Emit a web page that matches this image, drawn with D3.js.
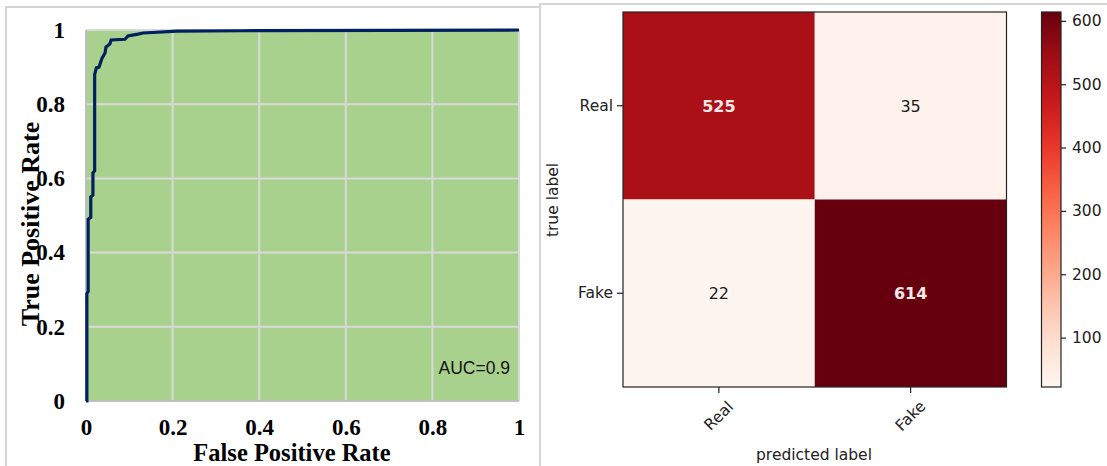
<!DOCTYPE html>
<html>
<head>
<meta charset="utf-8">
<script src="https://cdn.jsdelivr.net/npm/d3@7"></script>
<style>
  html, body { margin: 0; padding: 0; background: #fff; }
  svg { display: block; }
</style>
</head>
<body>
<svg id="chart" width="1107" height="466"></svg>
<script>
// ROC curve points (false positive rate / true positive rate)
const fpr = [0, 0.002, 0.002, 0.005, 0.005, 0.011, 0.011, 0.016, 0.016, 0.020, 0.020, 0.024, 0.030, 0.037, 0.044, 0.046, 0.055, 0.058, 0.090, 0.097, 0.120, 0.132, 0.21, 0.36, 0.70, 1];
const tpr = [0, 0, 0.29, 0.295, 0.49, 0.495, 0.55, 0.555, 0.615, 0.62, 0.88, 0.898, 0.90, 0.924, 0.938, 0.954, 0.962, 0.973, 0.975, 0.984, 0.989, 0.992, 0.997, 0.998, 0.999, 1];
const rocTicks = [0, 0.2, 0.4, 0.6, 0.8, 1];
const aucLabel = "AUC=0.9";

// Confusion matrix
const classes = ["Real", "Fake"];
const matrixRows = [[525, 35], [22, 614]];
const colorbarTicks = [100, 200, 300, 400, 500, 600];

const svg = d3.select("#chart");

// Panel frames
svg.append("rect").attr("x", 6).attr("y", 7).attr("width", 534).attr("height", 480)
  .attr("fill", "none").attr("stroke", "#d4d4d4").attr("stroke-width", 2);
svg.append("rect").attr("x", 540).attr("y", 4).attr("width", 580).attr("height", 480)
  .attr("fill", "none").attr("stroke", "#d4d4d4").attr("stroke-width", 2);

// ---------- ROC panel ----------
const rx = d3.scaleLinear().domain([0, 1]).range([86, 519]);
const ry = d3.scaleLinear().domain([0, 1]).range([401, 30]);

const roc = svg.append("g");
roc.append("rect")
  .attr("x", rx(0)).attr("y", ry(1))
  .attr("width", rx(1) - rx(0)).attr("height", ry(0) - ry(1))
  .attr("fill", "#a9d18e");

// gridlines
roc.append("g").selectAll("line.v").data(rocTicks.slice(1)).join("line")
  .attr("x1", d => rx(d)).attr("x2", d => rx(d))
  .attr("y1", ry(0)).attr("y2", ry(1))
  .attr("stroke", "#d9d9d9").attr("stroke-width", 2);
roc.append("g").selectAll("line.h").data(rocTicks.slice(1)).join("line")
  .attr("x1", rx(0)).attr("x2", rx(1))
  .attr("y1", d => ry(d)).attr("y2", d => ry(d))
  .attr("stroke", "#d9d9d9").attr("stroke-width", 2);
// axis lines
roc.append("line").attr("x1", rx(0)).attr("x2", rx(1)).attr("y1", ry(0)).attr("y2", ry(0))
  .attr("stroke", "#bfbfbf").attr("stroke-width", 2);
roc.append("line").attr("x1", rx(0)).attr("x2", rx(0)).attr("y1", ry(0)).attr("y2", ry(1))
  .attr("stroke", "#bfbfbf").attr("stroke-width", 2);

const fmt = d => d3.format("~g")(d);
const serif = "'Liberation Serif', 'Times New Roman', serif";

const xAxis = roc.append("g").attr("transform", `translate(0,${ry(0)})`)
  .call(d3.axisBottom(rx).tickValues(rocTicks).tickFormat(fmt).tickSize(0).tickPadding(19));
const yAxis = roc.append("g").attr("transform", `translate(${rx(0)},0)`)
  .call(d3.axisLeft(ry).tickValues(rocTicks).tickFormat(fmt).tickSize(0).tickPadding(21));
[xAxis, yAxis].forEach(a => {
  a.select(".domain").remove();
  a.selectAll("text").attr("font-family", serif).attr("font-size", 23)
    .attr("font-weight", "bold").attr("fill", "#000");
});
xAxis.selectAll("text").attr("dy", "0.66em");

// ROC line
const pts = fpr.map((f, i) => [f, tpr[i]]);
roc.append("path").datum(pts)
  .attr("d", d3.line().x(d => rx(d[0])).y(d => ry(d[1])))
  .attr("fill", "none").attr("stroke", "#002060").attr("stroke-width", 3.2)
  .attr("stroke-linejoin", "miter");

roc.append("text").attr("x", 510).attr("y", 374).attr("text-anchor", "end")
  .attr("font-family", "'Liberation Sans', Arial, sans-serif").attr("font-size", 17.5)
  .attr("fill", "#111").text(aucLabel);

roc.append("text").attr("x", 292).attr("y", 461).attr("text-anchor", "middle")
  .attr("font-family", serif).attr("font-size", 24.5).attr("font-weight", "bold")
  .attr("fill", "#000").text("False Positive Rate");
roc.append("text").attr("transform", "translate(39,224) rotate(-90)").attr("text-anchor", "middle")
  .attr("font-family", serif).attr("font-size", 26).attr("font-weight", "bold")
  .attr("fill", "#000").text("True Positive Rate");

// ---------- Confusion matrix panel ----------
const sans = "'DejaVu Sans', sans-serif";
const allVals = matrixRows.flat();
const vmin = d3.min(allVals), vmax = d3.max(allVals);
const color = d3.scaleSequential(d3.interpolateReds).domain([vmin, vmax]);

const cx = d3.scaleBand().domain(classes).range([623, 1006.5]);
const cy = d3.scaleBand().domain(classes).range([12, 387]);

const cm = svg.append("g");
const cells = [];
matrixRows.forEach((row, i) => row.forEach((v, j) => cells.push({ t: classes[i], p: classes[j], v })));

cm.selectAll("rect.cell").data(cells).join("rect")
  .attr("x", d => cx(d.p)).attr("y", d => cy(d.t))
  .attr("width", cx.bandwidth()).attr("height", cy.bandwidth())
  .attr("fill", d => color(d.v));

const thresh = vmax / 2;
cm.selectAll("text.val").data(cells).join("text")
  .attr("x", d => cx(d.p) + cx.bandwidth() / 2)
  .attr("y", d => cy(d.t) + cy.bandwidth() / 2)
  .attr("dy", "0.36em").attr("text-anchor", "middle")
  .attr("font-family", sans).attr("font-size", 16)
  .attr("font-weight", d => d.v > thresh ? "bold" : "normal")
  .attr("fill", d => d.v > thresh ? "#fbe8e8" : "#1a1a1a")
  .text(d => d.v);

cm.append("rect").attr("x", 623).attr("y", 12)
  .attr("width", 1006.5 - 623).attr("height", 387 - 12)
  .attr("fill", "none").attr("stroke", "#222").attr("stroke-width", 1.2);

const cyAxis = cm.append("g").attr("transform", "translate(623,0)")
  .call(d3.axisLeft(cy).tickSize(6).tickPadding(4));
const cxAxis = cm.append("g").attr("transform", "translate(0,387)")
  .call(d3.axisBottom(cx).tickSize(6).tickPadding(4));
[cyAxis, cxAxis].forEach(a => {
  a.select(".domain").remove();
  a.selectAll("line").attr("stroke", "#222").attr("stroke-width", 1.2);
  a.selectAll("text").attr("font-family", sans).attr("font-size", 15.5).attr("fill", "#222");
});
cxAxis.selectAll("text")
  .attr("y", 0).attr("dy", null)
  .attr("text-anchor", "middle").attr("dominant-baseline", "central")
  .attr("transform", "translate(0,29) rotate(-45)");

cm.append("text").attr("x", 814).attr("y", 460).attr("text-anchor", "middle")
  .attr("font-family", sans).attr("font-size", 15.5).attr("fill", "#222").text("predicted label");
cm.append("text").attr("transform", "translate(558,200) rotate(-90)").attr("text-anchor", "middle")
  .attr("font-family", sans).attr("font-size", 15.5).attr("fill", "#222").text("true label");

// Colorbar
const cbY = d3.scaleLinear().domain([vmin, vmax]).range([387, 12]);
const defs = svg.append("defs");
const grad = defs.append("linearGradient").attr("id", "cbgrad")
  .attr("x1", 0).attr("y1", 1).attr("x2", 0).attr("y2", 0);
d3.range(0, 1.0001, 0.05).forEach(t => {
  grad.append("stop").attr("offset", t).attr("stop-color", d3.interpolateReds(t));
});
cm.append("rect").attr("x", 1041.5).attr("y", 12).attr("width", 19.5).attr("height", 375)
  .attr("fill", "url(#cbgrad)").attr("stroke", "#222").attr("stroke-width", 1.2);
const cbAxis = cm.append("g").attr("transform", "translate(1061,0)")
  .call(d3.axisRight(cbY).tickValues(colorbarTicks).tickSize(5).tickPadding(6));
cbAxis.select(".domain").remove();
cbAxis.selectAll("line").attr("stroke", "#222").attr("stroke-width", 1.2);
cbAxis.selectAll("text").attr("font-family", sans).attr("font-size", 15.5).attr("fill", "#222");
</script>
</body>
</html>
